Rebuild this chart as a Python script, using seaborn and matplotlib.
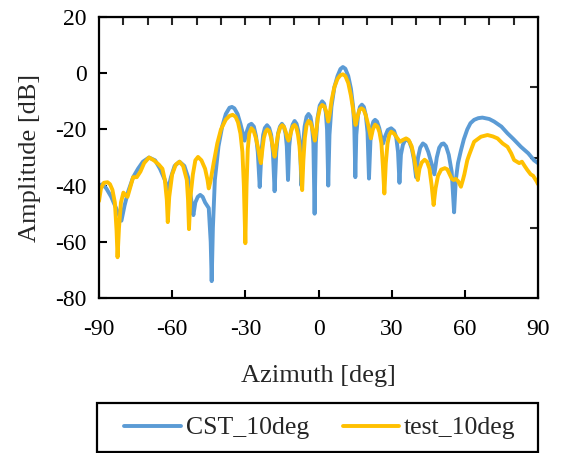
import numpy as np
import pandas as pd
import matplotlib
matplotlib.use("Agg")
import matplotlib.pyplot as plt
from matplotlib.patches import Rectangle
import seaborn as sns

# Data (azimuth in deg, amplitude in dB)
cst_az = [-90, -88.5, -87, -85, -83, -80.8, -79.5, -78, -76, -74, -72, -69.5, -67, -65, -63,
          -61.7, -60.5, -59, -57, -55, -53.5, -51.3, -50.5, -49.5, -48.5, -47.5, -46.5, -45,
          -44.2, -43.8, -43.3, -42.5, -41, -39.5, -38, -36.5, -35.5, -34.5, -33.2, -32, -31,
          -30.3, -29.5, -28.5, -27.5, -26.5, -25.6, -24.9, -24.1, -23.4, -22.7, -22, -21.1,
          -20.2, -19.4, -18.7, -18, -17.3, -16.6, -15.8, -15, -14.2, -13.5, -13, -12.5, -12,
          -11.4, -10.6, -9.8, -9, -8.3, -7.6, -7, -6.4, -5.7, -4.9, -4.1, -3.3, -2.7, -2.1,
          -1.6, -1.1, -0.4, 0.5, 1.5, 2.3, 3, 3.5, 4, 4.5, 5.3, 6.5, 7.8, 9, 10, 11, 12.2, 13.3,
          14.2, 14.7, 15.1, 15.5, 16.2, 17, 17.8, 18.6, 19.4, 20.1, 20.7, 21.3, 21.9, 22.5, 23.2,
          24, 24.9, 25.8, 26.5, 27.3, 28.4, 29.8, 31, 31.9, 32.6, 33.2, 33.8, 34.6, 35.5, 36.3,
          37.3, 38.3, 39.2, 40, 40.8, 41.7, 42.8, 43.9, 45, 46.3, 47.5, 48.5, 49.5, 50.5, 51.3,
          52.3, 53.4, 54.6, 55.6, 56.3, 57.2, 58.4, 59.6, 61, 62.3, 63.8, 65.5, 67.2, 70, 72, 75,
          77.5, 80, 83, 86, 88.4, 90]
cst_db = [-40, -39.5, -41, -44, -48, -52.5, -47, -42, -37, -34, -31.5, -30, -31, -34, -38,
          -41.5, -37, -33, -31.5, -33, -37, -50.5, -46, -44, -43.3, -44, -46, -48,
          -60, -74, -55, -38, -26, -19, -14.5, -12.3, -12, -12.5, -14.5, -18, -21.5,
          -24, -21, -18.5, -18, -19, -22.5, -28, -40.5, -28, -22, -19.5, -18.5,
          -19.5, -22, -28, -42, -28, -21.5, -19, -18, -19, -21.5, -26, -38, -26,
          -21, -18.3, -17, -18, -20.5, -25.5, -40, -26, -19, -15.5, -14.5, -15.5, -18.5, -25,
          -50, -25, -16, -11.5, -10, -10.8, -14, -20, -40, -22, -12, -5, -1, 1.5, 2.2, 1.6, -1, -5.5,
          -12, -20, -37, -22, -15, -12, -11.2, -12, -15, -21, -37.5, -24, -19, -17.2, -16.6,
          -17.2, -19.5, -23, -25, -22.5, -20.2, -19.6, -20.5, -23, -28, -39, -29, -25.5, -23.8, -23.5,
          -24.5, -27, -31, -37, -30, -26.5, -25, -25.7, -28, -32, -36, -30, -26.5, -25.2, -25,
          -26, -29, -35, -49.5, -38, -32, -27.5, -23.5, -20, -17.8, -16.6, -16, -15.8, -16.3, -17.2, -19,
          -21.4, -23.5, -26.2, -28.5, -31, -32]

test_az = [-90, -89.2, -88, -86.5, -85.5, -84.5, -83.5, -82.8, -82.4, -81.8, -81, -80, -79, -78.3,
           -77, -76, -74.5, -73, -71.5, -69.5, -67.5, -65.5, -64, -63, -62.2, -61.8, -61.2, -60,
           -58.5, -57, -55.5, -54, -53.5, -53.1, -52.5, -51.5, -50.5, -49.4, -48, -46.5, -45.5,
           -45, -44.3, -43, -41.5, -40, -38, -36.5, -35.2, -34, -33, -32, -31.2, -30.6, -30, -29.5,
           -29, -28.4, -27.5, -26.6, -25.7, -24.8, -24, -23.6, -23, -22.4, -21.7, -21, -20.2, -19.4,
           -18.7, -18, -17.3, -16.5, -15.7, -14.9, -14.1, -13.4, -12.8, -12.3, -11.7, -11, -10.4,
           -9.8, -9.1, -8.4, -7.8, -7.2, -6.7, -6.2, -5.6, -4.9, -4.1, -3.3, -2.6, -2, -1.5, -1,
           -0.3, 0.6, 1.5, 2.4, 3.1, 3.6, 4, 4.6, 5.4, 6.5, 7.8, 9, 10, 11, 12.2, 13.3, 14.3, 15.2,
           16, 16.8, 17.6, 18.5, 19.4, 20.4, 21.5, 22.3, 23.2, 24.2, 25, 25.8, 26.4, 27, 27.6, 28.3,
           29, 29.8, 31, 32.2, 33.4, 34.5, 35.9, 37, 38.2, 39.2, 40, 40.7, 41.4, 42.3, 43.5, 44.5,
           45.5, 46.4, 47.2, 48, 49, 50.3, 51.8, 52.8, 53.8, 54.6, 55.4, 56.3, 57.3, 58.4, 59.2,
           59.8, 61, 61.8, 63.8, 66.6, 69.3, 71.5, 73.4, 75.5, 77.5, 79, 80.2, 81.3, 82.3, 83.4,
           84.5, 85.6, 87, 88, 89.5, 90]
test_db = [-45.5, -41, -39, -38.8, -39.5, -41.5, -46, -56, -65.5, -55, -46, -42.5, -43.5, -44,
           -40, -37, -37, -35, -32, -30, -31, -32.5, -34, -38, -45, -53, -44, -36,
           -32.5, -31.5, -33, -38, -45, -55.5, -44, -36, -31, -29.8, -31, -34, -38,
           -41, -38.5, -32, -25, -20, -16.5, -15.2, -14.8, -15.5, -17.5, -21.5, -28, -40, -60.5, -40,
           -27, -21.5, -19.6, -20.5, -23, -26.5, -30.5, -32, -27, -23, -20.8, -20, -20.6, -23,
           -26.5, -29.7, -25.5, -21.5, -19.3, -18.5, -19.2, -21, -23, -24, -22.5, -20, -18.8,
           -18.4, -19.3, -22, -26, -33, -41.6, -31, -23, -18.5, -17, -17.5, -19.5, -22, -24, -21,
           -16, -12.3, -11.3, -11.8, -13.5, -15.5, -17.2, -14.5, -9.5, -5, -2, -0.7, -0.4, -1, -3.5, -8, -13.5, -18.4,
           -15.5, -13, -12.5, -13, -15, -18.5, -23.2, -20, -18.3, -19, -21, -25, -33, -42.8, -32, -25,
           -22, -20.8, -21.5, -23, -24.4, -23.8, -23.2, -23.8, -26, -30, -34.5, -38, -34, -31.8, -30.8, -31.5,
           -34, -40, -46.9, -41, -36.5, -34.3, -33.8, -34.2, -36, -37.5, -38, -37.6, -38.5, -40.4, -38,
           -36, -31, -29, -24.4, -22.6, -22, -22.5, -23.2, -25, -26.2, -28.5, -30.9, -31.5, -32, -31.5,
           -33, -34.4, -36, -36.5, -38.6, -39.5]

x_ticks = [-90, -60, -30, 0, 30, 60, 90]
y_ticks = [20, 0, -20, -40, -60, -80]

sns.set_style("ticks")
plt.rcParams["font.family"] = ["Liberation Serif", "DejaVu Serif"]
plt.rcParams["axes.unicode_minus"] = False

fig = plt.figure(figsize=(5.61, 4.53), dpi=100)
ax = fig.add_axes([99 / 561, 1 - 298 / 453, 439 / 561, 281 / 453])

cst = pd.DataFrame({"az": cst_az, "db": cst_db})
test = pd.DataFrame({"az": test_az, "db": test_db})
sns.lineplot(data=cst, x="az", y="db", color="#5B9BD5", linewidth=2.8, label="CST_10deg", ax=ax)
sns.lineplot(data=test, x="az", y="db", color="#FFC000", linewidth=2.8, label="test_10deg", ax=ax)

ax.set_xlim(-90, 90)
ax.set_ylim(-80, 20)
ax.set_xticks(x_ticks)
ax.set_yticks(y_ticks)
ax.tick_params(direction="in", length=6, width=1.5, labelsize=17, colors="black")
ax.tick_params(axis="x", pad=15)
ax.tick_params(axis="y", pad=9)
for s in ax.spines.values():
    s.set_linewidth(1.6)
    s.set_color("black")

# minor ticks on the top and right frame
top = ax.secondary_xaxis("top")
top.set_xticks(np.arange(-80, 81, 10))
top.tick_params(direction="in", length=6, width=1.5, labeltop=False)
right = ax.secondary_yaxis("right")
right.set_yticks([-55, -30, -5])
right.tick_params(direction="in", length=6, width=1.5, labelright=False)

ax.set_xlabel("Azimuth [deg]", fontsize=19, labelpad=18)
ax.set_ylabel("Amplitude [dB]", fontsize=19, labelpad=10)

handles, labels = ax.get_legend_handles_labels()
ax.get_legend().remove()
fig.legend(handles, labels, loc="center", bbox_to_anchor=(320 / 561, 1 - 428 / 453), ncol=2,
           frameon=False, fontsize=18.5, handlelength=2.2, handletextpad=0.2, columnspacing=1.3)
fig.add_artist(Rectangle((97 / 561, 1 / 453), 441 / 561, 49 / 453, transform=fig.transFigure,
                         fill=False, edgecolor="black", linewidth=1.6))

fig.savefig("out.png", dpi=100)
